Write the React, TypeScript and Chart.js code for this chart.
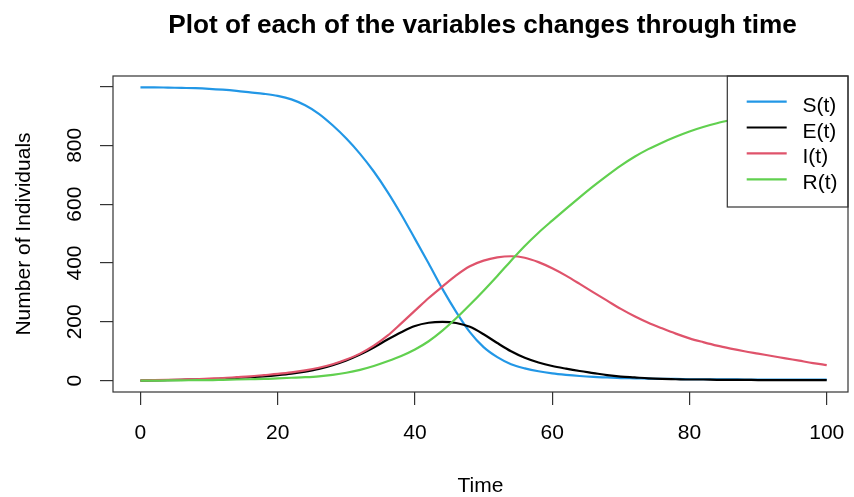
import React, { useEffect, useRef } from "react";
import { Chart, registerables } from "chart.js";

Chart.register(...registerables);

const times: number[] = [
  0, 2, 4, 6, 8, 10, 12, 14, 16, 18, 20, 22, 24, 26, 28, 30, 32, 34, 36, 38, 40,
  42, 44, 46, 48, 50, 52, 54, 56, 58, 60, 62, 64, 66, 68, 70, 72, 74, 76, 78, 80,
  82, 84, 86, 88, 90, 92, 94, 96, 98, 100,
];

const susceptible: number[] = [
  997, 997, 996, 995, 994, 992, 989, 985, 980, 975, 968, 956, 936, 907, 868, 823, 771, 711, 642, 565, 482,
  398, 312, 234, 165, 114, 80, 56, 42, 32, 25, 20, 16, 13, 11, 9, 8, 7, 6, 6, 5,
  5, 5, 5, 4, 4, 4, 4, 4, 4, 4,
];

const exposed: number[] = [
  0, 1, 2, 3, 4, 5, 7, 9, 12, 15, 19, 24, 31, 40, 53, 69, 89, 113, 140, 165, 186,
  197, 200, 196, 183, 158, 128, 100, 78, 62, 50, 41, 33, 26, 19, 14, 11, 8, 6, 5, 4,
  4, 3, 3, 3, 2, 2, 2, 2, 2, 2,
];

const infected: number[] = [
  1, 2, 3, 4, 5, 7, 9, 12, 15, 19, 23, 28, 35, 44, 56, 72, 92, 119, 153, 195, 238,
  281, 320, 358, 389, 408, 419, 423, 418, 403, 382, 357, 329, 300, 272, 244, 219, 197, 178, 160, 144,
  131, 119, 109, 100, 92, 84, 76, 68, 60, 53,
];

const recovered: number[] = [
  0, 0, 1, 1, 2, 2, 3, 4, 5, 6, 8, 10, 12, 15, 20, 27, 37, 50, 66, 84, 106,
  134, 170, 212, 258, 306, 356, 408, 458, 503, 544, 584, 623, 661, 697, 731, 761, 787, 809, 829, 847,
  862, 875, 886, 896, 905, 913, 920, 927, 933, 939,
];

const seriesLabels: string[] = ["S(t)", "E(t)", "I(t)", "R(t)"];
const seriesColors: string[] = ["#2297E6", "#000000", "#DF536B", "#61D04F"];

const xTicks: number[] = [0, 20, 40, 60, 80, 100];
const xTickLabels: string[] = ["0", "20", "40", "60", "80", "100"];
const yTicks: number[] = [0, 200, 400, 600, 800, 1000];
const yTickLabels: string[] = ["0", "200", "400", "600", "800", ""];

const titleText = "Plot of each of the variables changes through time";
const xTitle = "Time";
const yTitle = "Number of Individuals";

const FONT = '"Liberation Sans", Arial, sans-serif';

const rPlugin = {
  id: "rStyle",
  afterDatasetsDraw(chart: any) {
    const { ctx, chartArea: a } = chart;
    ctx.save();
    // legend (topright, inside plot)
    const lx = 727.3;
    const ly = a.top;
    const lw = a.right - lx;
    const lh = 131;
    ctx.fillStyle = "#ffffff";
    ctx.fillRect(lx, ly, lw, lh);
    ctx.strokeStyle = "#333333";
    ctx.lineWidth = 1.2;
    ctx.strokeRect(lx, ly, lw, lh);
    chart.data.datasets.forEach((ds: any, i: number) => {
      const y = 101.6 + i * 25.9;
      ctx.strokeStyle = ds.borderColor;
      ctx.lineWidth = 2.2;
      ctx.beginPath();
      ctx.moveTo(746.7, y);
      ctx.lineTo(786.7, y);
      ctx.stroke();
      ctx.fillStyle = "#000000";
      ctx.font = `21px ${FONT}`;
      ctx.textAlign = "left";
      ctx.textBaseline = "alphabetic";
      ctx.fillText(ds.label, 802.5, y + 10);
    });
    // plot box
    ctx.strokeStyle = "#333333";
    ctx.lineWidth = 1.2;
    ctx.strokeRect(a.left, a.top, a.right - a.left, a.bottom - a.top);
    ctx.restore();
  },
  afterDraw(chart: any) {
    const { ctx, chartArea: a, scales } = chart;
    ctx.save();
    ctx.fillStyle = "#000000";
    // title
    ctx.font = `bold 26.2px ${FONT}`;
    ctx.textAlign = "center";
    ctx.textBaseline = "alphabetic";
    ctx.fillText(titleText, (a.left + a.right) / 2 + 2, 33);
    // x tick labels
    ctx.font = `21px ${FONT}`;
    scales.x.ticks.forEach((t: any, i: number) => {
      const px = scales.x.getPixelForValue(t.value);
      ctx.fillText(xTickLabels[i] ?? String(t.value), px, 439);
    });
    // x title
    ctx.fillText(xTitle, (a.left + a.right) / 2, 492);
    // y tick labels (rotated)
    scales.y.ticks.forEach((t: any, i: number) => {
      const lab = yTickLabels[i];
      if (!lab) return;
      const py = scales.y.getPixelForValue(t.value);
      ctx.save();
      ctx.translate(81, py);
      ctx.rotate(-Math.PI / 2);
      ctx.fillText(lab, 0, 0);
      ctx.restore();
    });
    // y title
    ctx.save();
    ctx.translate(30, (a.top + a.bottom) / 2);
    ctx.rotate(-Math.PI / 2);
    ctx.fillText(yTitle, 0, 0);
    ctx.restore();
    ctx.restore();
  },
};

export default function App() {
  const canvasRef = useRef<HTMLCanvasElement | null>(null);

  useEffect(() => {
    const canvas = canvasRef.current;
    if (!canvas) return;
    const seriesValues = [susceptible, exposed, infected, recovered];
    const chart = new Chart(canvas, {
      type: "line",
      data: {
        datasets: seriesValues.map((vals, i) => ({
          label: seriesLabels[i],
          data: times.map((t, j) => ({ x: t, y: vals[j] })),
          borderColor: seriesColors[i],
          backgroundColor: seriesColors[i],
          borderWidth: 2.2,
          pointRadius: 0,
          fill: false,
          cubicInterpolationMode: "monotone" as const,
          order: 4 - i,
        })),
      },
      options: {
        animation: false,
        responsive: false,
        devicePixelRatio: 1,
        layout: { padding: { left: 0, top: 76, right: 6, bottom: 0 } },
        plugins: {
          legend: { display: false },
          title: { display: false },
          tooltip: { enabled: false },
        },
        events: [],
        scales: {
          x: {
            type: "linear",
            min: -4,
            max: 103.1,
            afterBuildTicks: (axis: any) => {
              axis.ticks = xTicks.map((v) => ({ value: v }));
            },
            afterFit: (axis: any) => {
              axis.height = 105;
            },
            ticks: { display: false },
            border: { display: false },
            grid: {
              drawOnChartArea: false,
              drawTicks: true,
              tickLength: 13,
              color: "#333333",
              lineWidth: 1.2,
            },
          },
          y: {
            type: "linear",
            min: -38.4,
            max: 1035.5,
            afterBuildTicks: (axis: any) => {
              axis.ticks = yTicks.map((v) => ({ value: v }));
            },
            afterFit: (axis: any) => {
              axis.width = 113;
            },
            ticks: { display: false },
            border: { display: false },
            grid: {
              drawOnChartArea: false,
              drawTicks: true,
              tickLength: 13,
              color: "#333333",
              lineWidth: 1.2,
            },
          },
        },
      },
      plugins: [rPlugin],
    });
    return () => chart.destroy();
  }, []);

  return (
    <div style={{ position: "fixed", left: 0, top: 0, width: 854, height: 497, background: "#fff" }}>
      <canvas ref={canvasRef} width={854} height={497} style={{ display: "block" }} />
    </div>
  );
}
